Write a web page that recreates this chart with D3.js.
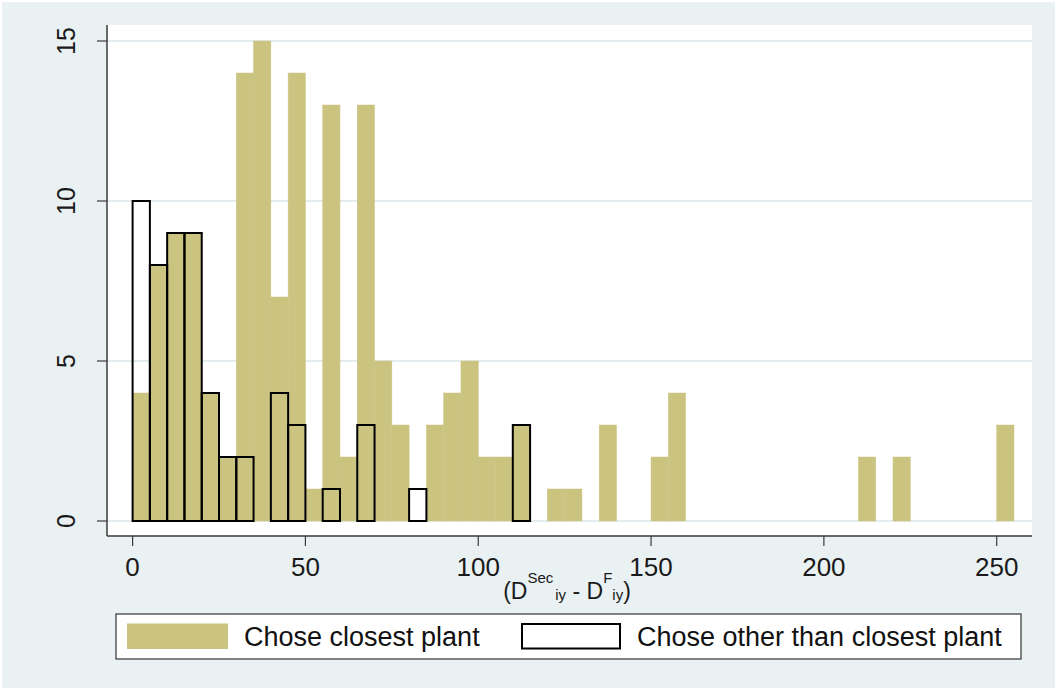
<!DOCTYPE html>
<html>
<head>
<meta charset="utf-8">
<script src="https://cdn.jsdelivr.net/npm/d3@7"></script>
<style>
  html, body { margin: 0; padding: 0; background: #ffffff; }
  svg { display: block; }
  text { font-family: "Liberation Sans", Arial, sans-serif; }
</style>
</head>
<body>
<svg id="chart" width="1058" height="690"></svg>
<script>
// ---- data (bin lower edges, width 5) ----
const binWidth = 5;
const closestBins   = [0, 5, 10, 15, 20, 25, 30, 35, 40, 45, 50, 55, 60, 65, 70, 75, 85, 90, 95, 100, 105, 110, 120, 125, 135, 150, 155, 210, 220, 250];
const closestCounts = [4, 8, 9,  9,  4,  2,  14, 15, 7,  14, 1,  13, 2,  13, 5,  3,  3,  4,  5,  2,   2,   3,   1,   1,   3,   2,   4,   2,   2,   3];
const otherBins     = [0, 5, 10, 15, 20, 25, 30, 40, 45, 55, 65, 80, 110];
const otherCounts   = [10, 8, 9, 9,  4,  2,  2,  4,  3,  1,  3,  1,  3];
const xTicks = [0, 50, 100, 150, 200, 250];
const yTicks = [0, 5, 10, 15];
const legendLabels = ["Chose closest plant", "Chose other than closest plant"];

const closest = closestBins.map((b, i) => ({x0: b, x1: b + binWidth, n: closestCounts[i]}));
const other   = otherBins.map((b, i) => ({x0: b, x1: b + binWidth, n: otherCounts[i]}));

const svg = d3.select("#chart");
const tan = "#cbc380";
const bg = "#eaf1f3";
const axisCol = "#3a3a3a";

// outer background
svg.append("rect").attr("x", 2).attr("y", 2).attr("width", 1053).attr("height", 686).attr("fill", bg);

// plot region
const plot = {left: 107, right: 1032, top: 25, bottom: 536};
svg.append("rect").attr("x", plot.left).attr("y", plot.top)
  .attr("width", plot.right - plot.left).attr("height", plot.bottom - plot.top).attr("fill", "#ffffff");

const x = d3.scaleLinear().domain([0, 250]).range([132.6, 996.7]);
const y = d3.scaleLinear().domain([0, 15]).range([521, 41]);

// gridlines
svg.append("g").selectAll("line").data(yTicks).join("line")
  .attr("x1", plot.left).attr("x2", plot.right)
  .attr("y1", d => y(d)).attr("y2", d => y(d))
  .attr("stroke", "#e3ecef").attr("stroke-width", 2);

// closest bars
svg.append("g").selectAll("rect").data(closest).join("rect")
  .attr("x", d => x(d.x0)).attr("width", d => x(d.x1) - x(d.x0))
  .attr("y", d => y(d.n)).attr("height", d => y(0) - y(d.n))
  .attr("fill", tan).attr("stroke", tan).attr("stroke-width", 0.5);

// other bars (outline)
svg.append("g").selectAll("rect").data(other).join("rect")
  .attr("x", d => x(d.x0)).attr("width", d => x(d.x1) - x(d.x0))
  .attr("y", d => y(d.n)).attr("height", d => y(0) - y(d.n))
  .attr("fill", "none").attr("stroke", "#000").attr("stroke-width", 2);

// axes
const xAxis = svg.append("g");
xAxis.append("line").attr("x1", plot.left).attr("x2", plot.right)
  .attr("y1", plot.bottom).attr("y2", plot.bottom).attr("stroke", axisCol).attr("stroke-width", 1.5);
xAxis.selectAll("line.tick").data(xTicks).join("line").attr("class", "tick")
  .attr("x1", d => x(d)).attr("x2", d => x(d))
  .attr("y1", plot.bottom).attr("y2", plot.bottom + 10).attr("stroke", axisCol).attr("stroke-width", 1.2);
xAxis.selectAll("text").data(xTicks).join("text")
  .attr("x", d => x(d)).attr("y", 576).attr("text-anchor", "middle")
  .attr("font-size", 26).attr("fill", "#1a1a1a").text(d => d);

const yAxis = svg.append("g");
yAxis.append("line").attr("x1", plot.left).attr("x2", plot.left)
  .attr("y1", plot.top).attr("y2", plot.bottom).attr("stroke", axisCol).attr("stroke-width", 1.5);
yAxis.selectAll("line.tick").data(yTicks).join("line").attr("class", "tick")
  .attr("x1", plot.left - 10).attr("x2", plot.left)
  .attr("y1", d => y(d)).attr("y2", d => y(d)).attr("stroke", axisCol).attr("stroke-width", 1.2);
yAxis.selectAll("text").data(yTicks).join("text")
  .attr("transform", d => `translate(75,${y(d)}) rotate(-90)`)
  .attr("text-anchor", "middle").attr("font-size", 25).attr("fill", "#1a1a1a").text(d => d);

// x title
const title = svg.append("text").attr("x", 567).attr("y", 599)
  .attr("text-anchor", "middle").attr("font-size", 23).attr("fill", "#1a1a1a");
title.append("tspan").text("(D");
title.append("tspan").attr("font-size", 15).attr("dy", -16).text("Sec");
title.append("tspan").attr("font-size", 15).attr("dy", 17).attr("dx", 2).text("iy");
title.append("tspan").attr("dy", -1).text(" - D");
title.append("tspan").attr("font-size", 15).attr("dy", -16).text("F");
title.append("tspan").attr("font-size", 15).attr("dy", 17).text("iy");
title.append("tspan").attr("dy", -1).text(")");

// legend
const lg = svg.append("g");
lg.append("rect").attr("x", 116).attr("y", 614).attr("width", 905).attr("height", 45)
  .attr("fill", "#fff").attr("stroke", "#333").attr("stroke-width", 1.2);
lg.append("rect").attr("x", 127).attr("y", 623.5).attr("width", 101).attr("height", 25.5).attr("fill", tan);
lg.append("text").attr("x", 244).attr("y", 646).attr("font-size", 27).attr("fill", "#111").text(legendLabels[0]);
lg.append("rect").attr("x", 522).attr("y", 624).attr("width", 98).attr("height", 24.5)
  .attr("fill", "#fff").attr("stroke", "#000").attr("stroke-width", 2);
lg.append("text").attr("x", 637).attr("y", 646).attr("font-size", 27).attr("fill", "#111").text(legendLabels[1]);
</script>
</body>
</html>
